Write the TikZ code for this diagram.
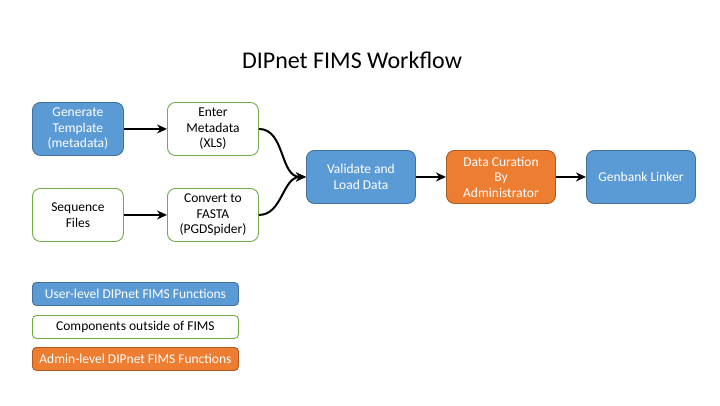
\documentclass[tikz,border=0pt]{standalone}
\usepackage{fontspec}
\setmainfont{Carlito}
\usetikzlibrary{arrows.meta}
\definecolor{ublue}{HTML}{5B9BD5}
\definecolor{ubluedark}{HTML}{41719C}
\definecolor{ugreen}{HTML}{70AD47}
\definecolor{uorange}{HTML}{ED7D31}
\definecolor{uorangedark}{HTML}{AE5A21}
\begin{document}
\begin{tikzpicture}[x=1pt,y=-1pt,
  box/.style={rounded corners=8pt, line width=0.9pt, align=center, inner sep=0pt,
    font=\fontsize{13.5}{15.5}\selectfont, anchor=north west},
  userbox/.style={box, fill=ublue, draw=ubluedark, text=white},
  outbox/.style={box, fill=white, draw=ugreen, text=black},
  adminbox/.style={box, fill=uorange, draw=uorangedark, text=white},
  conn/.style={-{Stealth[length=10pt,width=9pt]}, line width=2pt, black},
  leg/.style={rounded corners=4pt, line width=0.9pt, inner sep=0pt, anchor=north west,
    minimum width=206pt, minimum height=23pt, font=\fontsize{13.5}{15}\selectfont}
]
\useasboundingbox[fill=white] (0,0) rectangle (720,405);
\node[font=\fontsize{24}{28}\selectfont] (title) at (352,60) {DIPnet FIMS Workflow};

\node[userbox, minimum width=91pt, minimum height=53pt] (gen) at (32,102) {Generate\\Template\\(metadata)};
\node[outbox, minimum width=91pt, minimum height=53pt] (ent) at (167,102) {Enter\\Metadata\\(XLS)};
\node[outbox, minimum width=91pt, minimum height=53pt] (seq) at (32,188) {Sequence\\Files};
\node[outbox, minimum width=91pt, minimum height=53pt] (con) at (167,188) {Convert to\\FASTA\\(PGDSpider)};
\node[userbox, minimum width=109pt, minimum height=53pt] (val) at (306,150) {Validate and\\Load Data};
\node[adminbox, minimum width=109pt, minimum height=53pt] (cur) at (446,150) {Data Curation\\By\\Administrator};
\node[userbox, minimum width=109pt, minimum height=53pt] (gbl) at (586,150) {Genbank Linker};

\draw[conn] (gen.east) -- (ent.west);
\draw[conn] (seq.east) -- (con.west);
\draw[conn] (ent.east) to[out=0,in=180] (val.west);
\draw[conn] (con.east) to[out=0,in=180] (val.west);
\draw[conn] (val.east) -- (cur.west);
\draw[conn] (cur.east) -- (gbl.west);

\node[leg, fill=ublue, draw=ubluedark, text=white] (l1) at (32,282) {User-level DIPnet FIMS Functions};
\node[leg, fill=white, draw=ugreen, text=black] (l2) at (32,315) {Components outside of FIMS};
\node[leg, fill=uorange, draw=uorangedark, text=white] (l3) at (32,347) {Admin-level DIPnet FIMS Functions};
\end{tikzpicture}
\end{document}
